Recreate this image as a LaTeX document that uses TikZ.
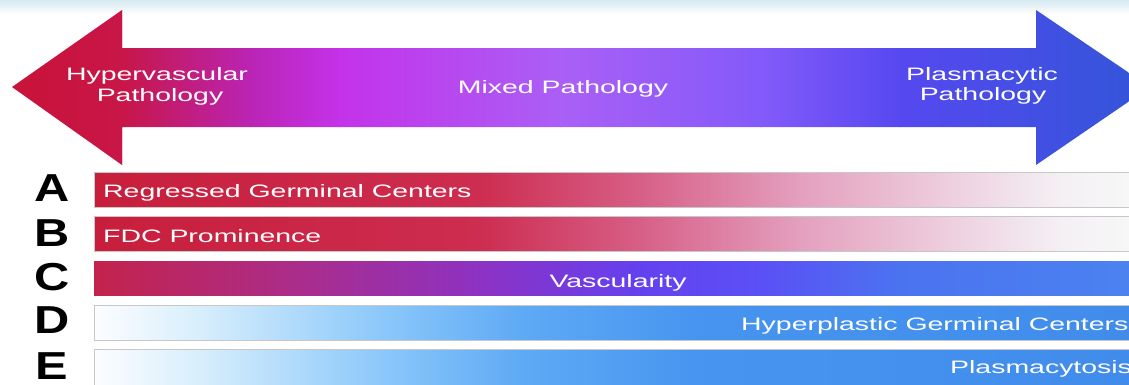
\documentclass[tikz,border=0pt]{standalone}
\usepackage{fontspec}
\setmainfont{Liberation Sans}
\usepackage{graphicx}
\definecolor{topblue}{RGB}{214,234,242}
% arrow colours
\definecolor{ar0}{RGB}{200,18,55}
\definecolor{ar1}{RGB}{200,22,72}
\definecolor{ar2}{RGB}{186,36,180}
\definecolor{ar3}{RGB}{196,50,234}
\definecolor{ar4}{RGB}{170,95,245}
\definecolor{ar5}{RGB}{132,90,250}
\definecolor{ar6}{RGB}{86,72,240}
\definecolor{ar7}{RGB}{48,86,215}
% red bars
\definecolor{rb0}{RGB}{200,30,60}
\definecolor{rb1}{RGB}{205,45,80}
\definecolor{rb2}{RGB}{215,95,135}
\definecolor{rb3}{RGB}{228,160,190}
\definecolor{rb4}{RGB}{238,210,225}
\definecolor{rb5}{RGB}{244,240,244}
\definecolor{rb6}{RGB}{247,247,247}
% vascular bar
\definecolor{vb0}{RGB}{195,35,75}
\definecolor{vb1}{RGB}{170,45,140}
\definecolor{vb2}{RGB}{140,50,195}
\definecolor{vb3}{RGB}{100,65,240}
\definecolor{vb4}{RGB}{90,80,245}
\definecolor{vb5}{RGB}{75,115,240}
\definecolor{vb6}{RGB}{75,130,240}
% blue bars
\definecolor{bb0}{RGB}{252,253,255}
\definecolor{bb1}{RGB}{215,238,252}
\definecolor{bb2}{RGB}{140,200,250}
\definecolor{bb3}{RGB}{95,170,245}
\definecolor{bb4}{RGB}{70,148,240}
\definecolor{bb5}{RGB}{65,140,235}
\newcommand\hseg[6]{\shade[left color=#3,right color=#4] (#1,#5) rectangle ($(#2,#6)+(0.8,0)$);}
\usetikzlibrary{calc}
\tikzset{
  toplbl/.style={text=white, font=\fontsize{18}{22}\selectfont, inner sep=0pt},
  barlbl/.style={text=white, font=\fontsize{18}{22}\selectfont, inner sep=0pt},
  letter/.style={text=black, font=\bfseries\fontsize{39}{39}\selectfont, inner sep=0pt},
  barline/.style={draw=black!22, line width=0.6pt}
}
\newcommand\sx[1]{\scalebox{1.58}[1]{#1}}
\newcommand\lx[1]{\scalebox{1.25}[1]{#1}}
\begin{document}
\begin{tikzpicture}[x=1pt,y=-1pt]
\clip (0,0) rectangle (1129,384);
\fill[white] (0,0) rectangle (1129,384);
\shade[top color=topblue, bottom color=white] (0,0) rectangle (1129,14);
% double arrow
\begin{scope}
\clip (12,87) -- (122,10) -- (122,48) -- (1036,48) -- (1036,10) -- (1150,87)
      -- (1036,165) -- (1036,127) -- (122,127) -- (122,165) -- cycle;
\hseg{0}{122}{ar0}{ar1}{0}{170}
\hseg{122}{250}{ar1}{ar2}{0}{170}
\hseg{250}{340}{ar2}{ar3}{0}{170}
\hseg{340}{560}{ar3}{ar4}{0}{170}
\hseg{560}{760}{ar4}{ar5}{0}{170}
\hseg{760}{900}{ar5}{ar6}{0}{170}
\hseg{900}{1160}{ar6}{ar7}{0}{170}
\end{scope}
\node[toplbl, anchor=base] (hyp1) at (157,80) {\sx{Hypervascular}};
\node[toplbl, anchor=base] (hyp2) at (160,101) {\sx{Pathology}};
\node[toplbl, anchor=base] (mix) at (563,93) {\sx{Mixed Pathology}};
\node[toplbl, anchor=base] (pla1) at (982,80) {\sx{Plasmacytic}};
\node[toplbl, anchor=base] (pla2) at (983,100) {\sx{Pathology}};
% bar A
\hseg{94}{480}{rb0}{rb1}{172}{207}
\hseg{480}{640}{rb1}{rb2}{172}{207}
\hseg{640}{800}{rb2}{rb3}{172}{207}
\hseg{800}{960}{rb3}{rb4}{172}{207}
\hseg{960}{1060}{rb4}{rb5}{172}{207}
\hseg{1060}{1130}{rb5}{rb6}{172}{207}
\draw[barline] (94,172) rectangle (1140,207);
% bar B
\hseg{94}{480}{rb0}{rb1}{216}{251}
\hseg{480}{640}{rb1}{rb2}{216}{251}
\hseg{640}{800}{rb2}{rb3}{216}{251}
\hseg{800}{960}{rb3}{rb4}{216}{251}
\hseg{960}{1060}{rb4}{rb5}{216}{251}
\hseg{1060}{1130}{rb5}{rb6}{216}{251}
\draw[barline] (94,216) rectangle (1140,251);
% bar C
\hseg{94}{300}{vb0}{vb1}{261}{295}
\hseg{300}{480}{vb1}{vb2}{261}{295}
\hseg{480}{640}{vb2}{vb3}{261}{295}
\hseg{640}{760}{vb3}{vb4}{261}{295}
\hseg{760}{900}{vb4}{vb5}{261}{295}
\hseg{900}{1130}{vb5}{vb6}{261}{295}
% bar D
\hseg{94}{200}{bb0}{bb1}{305}{340}
\hseg{200}{380}{bb1}{bb2}{305}{340}
\hseg{380}{520}{bb2}{bb3}{305}{340}
\hseg{520}{700}{bb3}{bb4}{305}{340}
\hseg{700}{1130}{bb4}{bb5}{305}{340}
\draw[barline] (94,305) rectangle (1140,340);
% bar E
\hseg{94}{200}{bb0}{bb1}{349}{390}
\hseg{200}{380}{bb1}{bb2}{349}{390}
\hseg{380}{520}{bb2}{bb3}{349}{390}
\hseg{520}{700}{bb3}{bb4}{349}{390}
\hseg{700}{1130}{bb4}{bb5}{349}{390}
\draw[barline] (94,349) rectangle (1140,390);
% bar labels
\node[barlbl, anchor=base west] (ta) at (103,197) {\sx{Regressed Germinal Centers}};
\node[barlbl, anchor=base west] (tb) at (103,242) {\sx{FDC Prominence}};
\node[barlbl, anchor=base] (tc) at (618,287) {\sx{Vascularity}};
\node[barlbl, anchor=base west] (td) at (741,330) {\sx{Hyperplastic Germinal Centers}};
\node[barlbl, anchor=base west] (te) at (950,373) {\sx{Plasmacytosis}};
% letters
\node[letter] (la) at (52,188) {\lx{A}};
\node[letter] (lb) at (52,233) {\lx{B}};
\node[letter] (lc) at (52,277) {\lx{C}};
\node[letter] (ld) at (52,320) {\lx{D}};
\node[letter] (le) at (52,366) {\lx{E}};
\end{tikzpicture}
\end{document}
